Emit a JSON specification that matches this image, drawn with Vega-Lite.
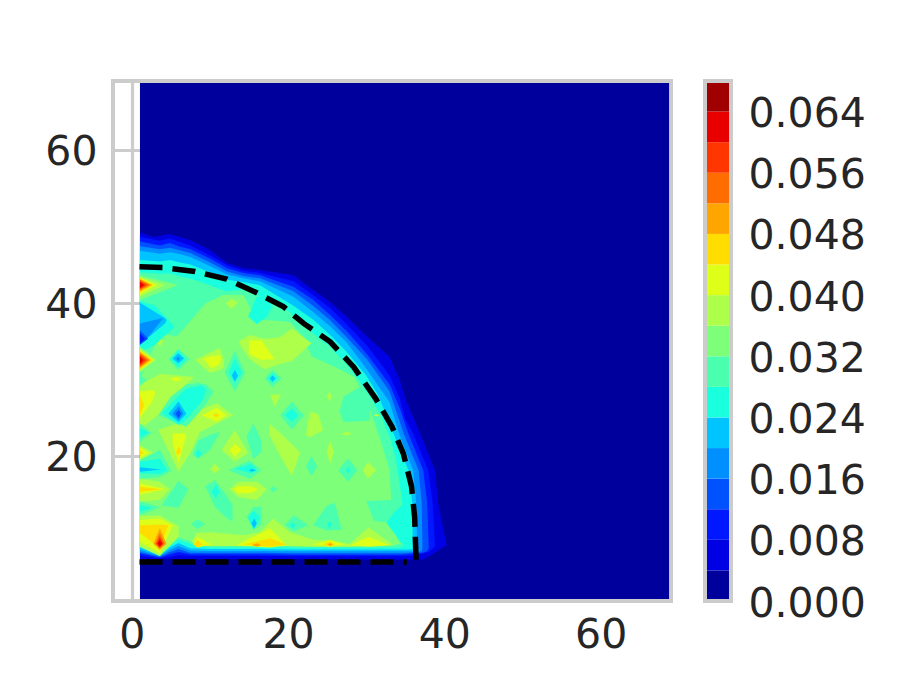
{"$schema":"https://vega.github.io/schema/vega-lite/v6.json","background":"white","padding":{"left":42,"top":79,"right":30,"bottom":20},"bounds":"flush","spacing":34,"config":{"view":{"stroke":"#cccccc","strokeWidth":4},"font":"DejaVu Sans","axis":{"labelFont":"DejaVu Sans","labelFontSize":41,"labelColor":"#262626","title":null,"ticks":false,"domain":false}},
"hconcat":[{"width":558,"height":520,"layer":[{"data":{"values":[
{"s":0,"x":1.06,"y":68.74,"b":1.26,"v":0.002},{"s":0,"x":68.75,"y":68.74,"b":1.26,"v":0.002},
{"s":1,"x":1.06,"y":49.2,"b":6.5,"v":0.006},{"s":1,"x":2.8,"y":48.6,"b":6.5,"v":0.006},{"s":1,"x":4.9,"y":49,"b":6.5,"v":0.006},{"s":1,"x":7.5,"y":48.2,"b":6.5,"v":0.006},{"s":1,"x":10,"y":46.9,"b":6.5,"v":0.006},{"s":1,"x":12.2,"y":45.2,"b":6.5,"v":0.006},{"s":1,"x":14.3,"y":44.5,"b":6.5,"v":0.006},{"s":1,"x":16.4,"y":44.3,"b":6.5,"v":0.006},{"s":1,"x":20.7,"y":43.6,"b":6.45,"v":0.006},{"s":1,"x":23.2,"y":41.7,"b":6.45,"v":0.006},{"s":1,"x":25.4,"y":40.1,"b":6.45,"v":0.006},{"s":1,"x":27.5,"y":38.2,"b":6.4,"v":0.006},{"s":1,"x":30.1,"y":35.6,"b":6.4,"v":0.006},{"s":1,"x":33,"y":32.9,"b":6.4,"v":0.006},{"s":1,"x":34.3,"y":29.9,"b":6.4,"v":0.006},{"s":1,"x":35,"y":27.5,"b":6.4,"v":0.006},{"s":1,"x":36.9,"y":22.9,"b":6.4,"v":0.006},{"s":1,"x":37.3,"y":21.9,"b":6.4,"v":0.006},{"s":1,"x":38.8,"y":18.1,"b":7.3,"v":0.006},{"s":1,"x":39.2,"y":13.8,"b":7.6,"v":0.006},{"s":1,"x":40.3,"y":8.3,"b":8.3,"v":0.006},
{"s":2,"x":1.06,"y":48.6,"b":6.9,"v":0.01},{"s":2,"x":3.6,"y":48.1,"b":6.6,"v":0.01},{"s":2,"x":4.9,"y":48.4,"b":6.8,"v":0.01},{"s":2,"x":6,"y":48,"b":7,"v":0.01},{"s":2,"x":7.5,"y":47.5,"b":6.9,"v":0.01},{"s":2,"x":10,"y":46.2,"b":6.9,"v":0.01},{"s":2,"x":12.2,"y":44.9,"b":6.9,"v":0.01},{"s":2,"x":14.3,"y":44.2,"b":6.9,"v":0.01},{"s":2,"x":16.4,"y":43.9,"b":6.9,"v":0.01},{"s":2,"x":20.7,"y":42.8,"b":6.85,"v":0.01},{"s":2,"x":23.2,"y":41,"b":6.85,"v":0.01},{"s":2,"x":25.4,"y":39.3,"b":6.85,"v":0.01},{"s":2,"x":27.5,"y":37.2,"b":6.85,"v":0.01},{"s":2,"x":30.1,"y":34.4,"b":6.85,"v":0.01},{"s":2,"x":33,"y":30.5,"b":6.85,"v":0.01},{"s":2,"x":34.3,"y":27.5,"b":6.85,"v":0.01},{"s":2,"x":35,"y":24.8,"b":6.85,"v":0.01},{"s":2,"x":36,"y":22.9,"b":6.9,"v":0.01},{"s":2,"x":37.95,"y":18.1,"b":7.4,"v":0.01},{"s":2,"x":38.5,"y":13.8,"b":7.8,"v":0.01},{"s":2,"x":38.8,"y":8.3,"b":8.1,"v":0.01},
{"s":3,"x":1.06,"y":48,"b":7.2,"v":0.014},{"s":3,"x":3.6,"y":47.5,"b":6.7,"v":0.014},{"s":3,"x":4.9,"y":47.8,"b":7.1,"v":0.014},{"s":3,"x":6,"y":47.4,"b":7.4,"v":0.014},{"s":3,"x":7.5,"y":47,"b":7.1,"v":0.014},{"s":3,"x":10,"y":45.8,"b":7.1,"v":0.014},{"s":3,"x":12.2,"y":44.5,"b":7.1,"v":0.014},{"s":3,"x":14.3,"y":43.9,"b":7.1,"v":0.014},{"s":3,"x":16.4,"y":43.6,"b":7.1,"v":0.014},{"s":3,"x":20.7,"y":42.1,"b":7.05,"v":0.014},{"s":3,"x":23.2,"y":40.4,"b":7.05,"v":0.014},{"s":3,"x":25.4,"y":38.4,"b":7.05,"v":0.014},{"s":3,"x":27.5,"y":36.3,"b":7.05,"v":0.014},{"s":3,"x":30.1,"y":33.3,"b":7.05,"v":0.014},{"s":3,"x":33,"y":29.3,"b":7.05,"v":0.014},{"s":3,"x":34.3,"y":26.2,"b":7.05,"v":0.014},{"s":3,"x":35.4,"y":22.9,"b":7.1,"v":0.014},{"s":3,"x":37.3,"y":18.1,"b":7.3,"v":0.014},{"s":3,"x":37.8,"y":13.8,"b":7.5,"v":0.014},{"s":3,"x":38,"y":8.4,"b":7.9,"v":0.014},
{"s":4,"x":1.06,"y":47.4,"b":7.4,"v":0.018},{"s":4,"x":3.6,"y":47,"b":6.8,"v":0.018},{"s":4,"x":4.9,"y":47.2,"b":7.4,"v":0.018},{"s":4,"x":6,"y":46.9,"b":7.8,"v":0.018},{"s":4,"x":7.5,"y":46.5,"b":7.3,"v":0.018},{"s":4,"x":10,"y":45.3,"b":7.3,"v":0.018},{"s":4,"x":12.2,"y":44.1,"b":7.3,"v":0.018},{"s":4,"x":14.3,"y":43.5,"b":7.3,"v":0.018},{"s":4,"x":16.4,"y":43.2,"b":7.3,"v":0.018},{"s":4,"x":20.7,"y":41.5,"b":7.25,"v":0.018},{"s":4,"x":23.2,"y":39.6,"b":7.25,"v":0.018},{"s":4,"x":25.4,"y":37.7,"b":7.25,"v":0.018},{"s":4,"x":27.5,"y":35.5,"b":7.25,"v":0.018},{"s":4,"x":30.1,"y":32.6,"b":7.25,"v":0.018},{"s":4,"x":33,"y":28.4,"b":7.25,"v":0.018},{"s":4,"x":34.8,"y":22.9,"b":7.25,"v":0.018},{"s":4,"x":36.7,"y":18.1,"b":7.4,"v":0.018},{"s":4,"x":37.1,"y":13.8,"b":7.5,"v":0.018},{"s":4,"x":37.2,"y":8.4,"b":7.9,"v":0.018},
{"s":5,"x":1.06,"y":46.8,"b":7.7,"v":0.022},{"s":5,"x":3.6,"y":46.4,"b":6.9,"v":0.022},{"s":5,"x":4.9,"y":46.6,"b":7.7,"v":0.022},{"s":5,"x":6,"y":46.4,"b":8.2,"v":0.022},{"s":5,"x":7.5,"y":46,"b":7.6,"v":0.022},{"s":5,"x":10,"y":44.8,"b":7.55,"v":0.022},{"s":5,"x":12.2,"y":43.7,"b":7.55,"v":0.022},{"s":5,"x":14.3,"y":43.2,"b":7.55,"v":0.022},{"s":5,"x":16.4,"y":42.8,"b":7.55,"v":0.022},{"s":5,"x":20.7,"y":40.8,"b":7.5,"v":0.022},{"s":5,"x":23.2,"y":38.8,"b":7.5,"v":0.022},{"s":5,"x":25.4,"y":36.9,"b":7.5,"v":0.022},{"s":5,"x":27.5,"y":34.8,"b":7.5,"v":0.022},{"s":5,"x":29.6,"y":32,"b":7.5,"v":0.022},{"s":5,"x":33,"y":27,"b":7.5,"v":0.022},{"s":5,"x":34.2,"y":22.9,"b":7.5,"v":0.022},{"s":5,"x":36,"y":18.1,"b":7.5,"v":0.022},{"s":5,"x":36.4,"y":13.8,"b":7.6,"v":0.022},{"s":5,"x":36.5,"y":8.4,"b":8,"v":0.022},
{"s":6,"x":1.06,"y":45.6,"b":8,"v":0.026},{"s":6,"x":3.6,"y":45.4,"b":7,"v":0.026},{"s":6,"x":4.9,"y":45.6,"b":8,"v":0.026},{"s":6,"x":6,"y":45.3,"b":8.6,"v":0.026},{"s":6,"x":7.5,"y":45,"b":7.9,"v":0.026},{"s":6,"x":10,"y":44,"b":7.8,"v":0.026},{"s":6,"x":12.2,"y":43,"b":7.8,"v":0.026},{"s":6,"x":14.3,"y":42.7,"b":7.8,"v":0.026},{"s":6,"x":16.4,"y":42.3,"b":7.8,"v":0.026},{"s":6,"x":20.7,"y":39.6,"b":7.75,"v":0.026},{"s":6,"x":23.2,"y":37.8,"b":7.75,"v":0.026},{"s":6,"x":25.4,"y":35.8,"b":7.75,"v":0.026},{"s":6,"x":27.5,"y":33.6,"b":7.75,"v":0.026},{"s":6,"x":30,"y":30.5,"b":7.75,"v":0.026},{"s":6,"x":31.5,"y":28,"b":7.75,"v":0.026},{"s":6,"x":33.5,"y":22.9,"b":7.75,"v":0.026},{"s":6,"x":35.4,"y":18.1,"b":7.75,"v":0.026},{"s":6,"x":35.9,"y":13.8,"b":7.8,"v":0.026},{"s":6,"x":35.95,"y":8.4,"b":8,"v":0.026},
{"s":7,"x":1.06,"y":44,"b":8.3,"v":0.03},{"s":7,"x":3.6,"y":43.8,"b":7.1,"v":0.03},{"s":7,"x":5,"y":43.8,"b":8.3,"v":0.03},{"s":7,"x":6,"y":43.5,"b":9,"v":0.03},{"s":7,"x":8,"y":43,"b":8.3,"v":0.03},{"s":7,"x":10,"y":42.3,"b":8,"v":0.03},{"s":7,"x":12,"y":41.5,"b":8,"v":0.03},{"s":7,"x":14.3,"y":41.7,"b":8,"v":0.03},{"s":7,"x":16,"y":41,"b":8,"v":0.03},{"s":7,"x":17.7,"y":40.3,"b":8,"v":0.03},{"s":7,"x":20.25,"y":38.8,"b":8,"v":0.03},{"s":7,"x":21,"y":37.7,"b":8,"v":0.03},{"s":7,"x":23.2,"y":36,"b":8,"v":0.03},{"s":7,"x":25.4,"y":34.2,"b":8,"v":0.03},{"s":7,"x":27,"y":32.5,"b":8,"v":0.03},{"s":7,"x":28.8,"y":30.3,"b":8,"v":0.03},{"s":7,"x":30.5,"y":27.7,"b":8,"v":0.03},{"s":7,"x":31.8,"y":25.5,"b":8,"v":0.03},{"s":7,"x":33,"y":22.5,"b":8,"v":0.03},{"s":7,"x":33.7,"y":20,"b":8,"v":0.03},{"s":7,"x":34.2,"y":17,"b":8,"v":0.03},{"s":7,"x":34.7,"y":13.3,"b":8.2,"v":0.03},
{"s":8,"x":1.06,"y":30,"b":8.6,"v":0.034},{"s":8,"x":3.6,"y":36,"b":7.3,"v":0.034},{"s":8,"x":5.75,"y":35.6,"b":9.4,"v":0.034},{"s":8,"x":7.24,"y":37.3,"b":8.9,"v":0.034},{"s":8,"x":9.4,"y":39.9,"b":8.3,"v":0.034},{"s":8,"x":11.7,"y":41,"b":8.3,"v":0.034},{"s":8,"x":14.3,"y":41,"b":8.3,"v":0.034},{"s":8,"x":16,"y":37.7,"b":8.3,"v":0.034},{"s":8,"x":17.7,"y":37.7,"b":8.3,"v":0.034},{"s":8,"x":20.25,"y":37.5,"b":8.3,"v":0.034},{"s":8,"x":22,"y":35.5,"b":8.3,"v":0.034},{"s":8,"x":23,"y":33,"b":8.3,"v":0.034},{"s":8,"x":26,"y":31.6,"b":8.3,"v":0.034},{"s":8,"x":28.5,"y":30.3,"b":8.3,"v":0.034},{"s":8,"x":30.5,"y":26,"b":8.3,"v":0.034},{"s":8,"x":32,"y":21.5,"b":8.3,"v":0.034},{"s":8,"x":33,"y":18.1,"b":8.3,"v":0.034},{"s":8,"x":33.2,"y":14.2,"b":8.3,"v":0.034},{"s":8,"x":34,"y":9,"b":8.4,"v":0.034},{"s":8,"x":34.5,"y":8.6,"b":8.6,"v":0.034},
{"s":10,"x":12,"y":39.9,"b":39.9,"v":0.038},{"s":10,"x":12.8,"y":40.5,"b":39.2,"v":0.038},{"s":10,"x":13.6,"y":40.1,"b":40.1,"v":0.038},
{"s":11,"x":3.2,"y":34.9,"b":34.9,"v":0.038},{"s":11,"x":3.6,"y":35.5,"b":34.3,"v":0.038},{"s":11,"x":4.05,"y":34.9,"b":34.9,"v":0.038},
{"s":12,"x":8.1,"y":32.5,"b":32.5,"v":0.038},{"s":12,"x":10,"y":33.5,"b":30.8,"v":0.038},{"s":12,"x":11.3,"y":34.1,"b":31.2,"v":0.038},{"s":12,"x":11.8,"y":32.5,"b":31.6,"v":0.038},
{"s":13,"x":13.64,"y":34.9,"b":34.9,"v":0.038},{"s":13,"x":15.1,"y":35.8,"b":32.6,"v":0.038},{"s":13,"x":17,"y":35.3,"b":31.3,"v":0.038},{"s":13,"x":19,"y":35.5,"b":32,"v":0.038},{"s":13,"x":20.5,"y":36.65,"b":32.4,"v":0.038},{"s":13,"x":23,"y":34.7,"b":34.7,"v":0.038},
{"s":14,"x":1.5,"y":29.5,"b":23.8,"v":0.038},{"s":14,"x":3.6,"y":30.7,"b":25.5,"v":0.038},{"s":14,"x":4.9,"y":30.6,"b":27.3,"v":0.038},{"s":14,"x":8,"y":30.3,"b":30.3,"v":0.038},
{"s":15,"x":1.06,"y":29,"b":23.8,"v":0.038},{"s":15,"x":1.5,"y":29.5,"b":23.8,"v":0.038},
{"s":16,"x":3.4,"y":23.4,"b":23.4,"v":0.038},{"s":16,"x":5.3,"y":24,"b":19.4,"v":0.038},{"s":16,"x":6,"y":24.2,"b":17.9,"v":0.038},{"s":16,"x":7.46,"y":24.9,"b":20.3,"v":0.038},{"s":16,"x":8.74,"y":26,"b":23.1,"v":0.038},{"s":16,"x":10.9,"y":26.85,"b":24.2,"v":0.038},{"s":16,"x":13,"y":25.3,"b":25.3,"v":0.038},
{"s":17,"x":11.5,"y":20.75,"b":20.75,"v":0.038},{"s":17,"x":13.2,"y":23.36,"b":19.2,"v":0.038},{"s":17,"x":14.9,"y":20.4,"b":20.4,"v":0.038},
{"s":18,"x":17.6,"y":24.2,"b":22.7,"v":0.038},{"s":18,"x":19,"y":23,"b":20,"v":0.038},{"s":18,"x":20.5,"y":21.5,"b":17.3,"v":0.038},{"s":18,"x":21.5,"y":20.5,"b":20.3,"v":0.038},
{"s":19,"x":17.7,"y":28,"b":28,"v":0.038},{"s":19,"x":18.3,"y":28,"b":26.4,"v":0.038},{"s":19,"x":19.1,"y":28,"b":28,"v":0.038},
{"s":20,"x":1.06,"y":21.4,"b":19.4,"v":0.038},{"s":20,"x":2.77,"y":20.4,"b":20.4,"v":0.038},
{"s":21,"x":1.06,"y":17,"b":14,"v":0.038},{"s":21,"x":3.6,"y":16.6,"b":14.2,"v":0.038},{"s":21,"x":4.9,"y":15.6,"b":15.6,"v":0.038},
{"s":22,"x":12.5,"y":15.6,"b":15.6,"v":0.038},{"s":22,"x":13.6,"y":16.6,"b":14.6,"v":0.038},{"s":22,"x":16,"y":16.6,"b":14.2,"v":0.038},{"s":22,"x":17.3,"y":15.6,"b":15.6,"v":0.038},
{"s":23,"x":10,"y":18.2,"b":18.2,"v":0.038},{"s":23,"x":10.65,"y":19,"b":17.7,"v":0.038},{"s":23,"x":11.3,"y":18.2,"b":18.2,"v":0.038},
{"s":24,"x":7.67,"y":8.75,"b":8.75,"v":0.038},{"s":24,"x":8.3,"y":9.9,"b":8.2,"v":0.038},{"s":24,"x":10,"y":10,"b":8.2,"v":0.038},{"s":24,"x":14.3,"y":9.6,"b":8.2,"v":0.038},{"s":24,"x":16.4,"y":10,"b":8.2,"v":0.038},{"s":24,"x":18.1,"y":11.8,"b":8.2,"v":0.038},{"s":24,"x":20.25,"y":10,"b":8.2,"v":0.038},{"s":24,"x":23.2,"y":9,"b":8.1,"v":0.038},{"s":24,"x":25.5,"y":8.9,"b":8.1,"v":0.038},{"s":24,"x":27.9,"y":8.45,"b":8.1,"v":0.038},{"s":24,"x":30.3,"y":10.6,"b":8.2,"v":0.038},{"s":24,"x":33.5,"y":8.3,"b":8.3,"v":0.038},
{"s":25,"x":22.3,"y":22.7,"b":22.7,"v":0.038},{"s":25,"x":22.8,"y":25.8,"b":22.4,"v":0.038},{"s":25,"x":23.9,"y":25.4,"b":23,"v":0.038},{"s":25,"x":24.5,"y":23.3,"b":23.3,"v":0.038},
{"s":26,"x":25,"y":27.9,"b":27.9,"v":0.038},{"s":26,"x":25.3,"y":28.3,"b":26.9,"v":0.038},{"s":26,"x":25.6,"y":27.9,"b":27.9,"v":0.038},
{"s":27,"x":24.9,"y":20.5,"b":20.5,"v":0.038},{"s":27,"x":25.4,"y":22,"b":18.9,"v":0.038},{"s":27,"x":25.9,"y":20.5,"b":20.5,"v":0.038},
{"s":28,"x":29.6,"y":18.1,"b":18.1,"v":0.038},{"s":28,"x":30.2,"y":19.2,"b":17,"v":0.038},{"s":28,"x":31.3,"y":18.1,"b":18.1,"v":0.038},
{"s":29,"x":26.6,"y":22.9,"b":22.9,"v":0.038},{"s":29,"x":27.7,"y":23.1,"b":22.6,"v":0.038},{"s":29,"x":28.1,"y":22.9,"b":22.9,"v":0.038},
{"s":30,"x":30.9,"y":25.3,"b":25.3,"v":0.038},{"s":30,"x":31.4,"y":25.5,"b":25.1,"v":0.038},{"s":30,"x":31.8,"y":25.3,"b":25.3,"v":0.038},
{"s":31,"x":15,"y":35.1,"b":33.3,"v":0.042},{"s":31,"x":16.6,"y":35.1,"b":32.5,"v":0.042},{"s":31,"x":18.3,"y":32.6,"b":32.6,"v":0.042},
{"s":32,"x":9.16,"y":32.7,"b":32.7,"v":0.042},{"s":32,"x":10.2,"y":33,"b":31.4,"v":0.042},{"s":32,"x":11.3,"y":33.2,"b":32,"v":0.042},{"s":32,"x":11.4,"y":32.6,"b":32.6,"v":0.042},
{"s":33,"x":1.06,"y":28.4,"b":24.9,"v":0.042},{"s":33,"x":2.77,"y":28.6,"b":27.3,"v":0.042},{"s":33,"x":3,"y":28.3,"b":28.3,"v":0.042},
{"s":34,"x":4.9,"y":30,"b":30,"v":0.042},{"s":34,"x":5.7,"y":30.3,"b":29.7,"v":0.042},{"s":34,"x":6.5,"y":30,"b":30,"v":0.042},
{"s":35,"x":8.95,"y":25.3,"b":25.3,"v":0.042},{"s":35,"x":10.9,"y":26.3,"b":24.4,"v":0.042},{"s":35,"x":12.15,"y":25.3,"b":25.3,"v":0.042},
{"s":36,"x":5.24,"y":22.9,"b":21.6,"v":0.042},{"s":36,"x":6,"y":22.9,"b":19,"v":0.042},{"s":36,"x":6.95,"y":22.9,"b":22.5,"v":0.042},
{"s":37,"x":12.5,"y":20.75,"b":20.75,"v":0.042},{"s":37,"x":13.2,"y":21.6,"b":19.9,"v":0.042},{"s":37,"x":14.07,"y":20.75,"b":20.75,"v":0.042},
{"s":38,"x":1.06,"y":21.1,"b":19.7,"v":0.042},{"s":38,"x":2.25,"y":20.4,"b":20.4,"v":0.042},
{"s":39,"x":1.06,"y":16.4,"b":14.9,"v":0.042},{"s":39,"x":4.26,"y":15.6,"b":15.6,"v":0.042},
{"s":40,"x":13,"y":15.6,"b":15.6,"v":0.042},{"s":40,"x":13.6,"y":16,"b":15.1,"v":0.042},{"s":40,"x":15.3,"y":16,"b":15.1,"v":0.042},{"s":40,"x":16.2,"y":15.6,"b":15.6,"v":0.042},
{"s":41,"x":7.9,"y":8.4,"b":8.4,"v":0.042},{"s":41,"x":8.4,"y":9.4,"b":8,"v":0.042},{"s":41,"x":10.2,"y":8.4,"b":8.4,"v":0.042},
{"s":42,"x":13.4,"y":8.3,"b":8.3,"v":0.042},{"s":42,"x":17.7,"y":10.5,"b":8,"v":0.042},{"s":42,"x":19.8,"y":8.3,"b":8.3,"v":0.042},
{"s":43,"x":23.2,"y":8.4,"b":8.4,"v":0.042},{"s":43,"x":25.4,"y":9,"b":8.1,"v":0.042},{"s":43,"x":27.3,"y":8.4,"b":8.4,"v":0.042},
{"s":44,"x":27.9,"y":8.3,"b":8.3,"v":0.042},{"s":44,"x":30.3,"y":9.4,"b":8.1,"v":0.042},{"s":44,"x":33,"y":8.3,"b":8.3,"v":0.042},
{"s":45,"x":1.06,"y":27.9,"b":25.3,"v":0.046},{"s":45,"x":1.6,"y":26.6,"b":26.6,"v":0.046},
{"s":46,"x":10.4,"y":25.3,"b":25.3,"v":0.046},{"s":46,"x":10.8,"y":25.6,"b":25,"v":0.046},{"s":46,"x":11.2,"y":25.3,"b":25.3,"v":0.046},
{"s":47,"x":5.65,"y":20.4,"b":20.4,"v":0.046},{"s":47,"x":6,"y":21.2,"b":20.1,"v":0.046},{"s":47,"x":6.35,"y":20.6,"b":20.6,"v":0.046},
{"s":48,"x":1.06,"y":20.75,"b":20,"v":0.046},{"s":48,"x":1.5,"y":20.4,"b":20.4,"v":0.046},
{"s":49,"x":1.06,"y":15.95,"b":15.3,"v":0.046},{"s":49,"x":3.83,"y":15.6,"b":15.6,"v":0.046},
{"s":50,"x":8,"y":8.4,"b":8.4,"v":0.046},{"s":50,"x":8.4,"y":9,"b":8,"v":0.046},{"s":50,"x":9.1,"y":8.4,"b":8.4,"v":0.046},
{"s":51,"x":14.3,"y":8.4,"b":8.4,"v":0.046},{"s":51,"x":17.7,"y":9.2,"b":8.1,"v":0.046},{"s":51,"x":19.8,"y":8.4,"b":8.4,"v":0.046},
{"s":52,"x":24.5,"y":8.4,"b":8.4,"v":0.046},{"s":52,"x":25.4,"y":8.8,"b":8.1,"v":0.046},{"s":52,"x":26,"y":8.4,"b":8.4,"v":0.046},
{"s":53,"x":15.4,"y":8.3,"b":8.3,"v":0.05},{"s":53,"x":16,"y":8.55,"b":8.1,"v":0.05},{"s":53,"x":16.6,"y":8.3,"b":8.3,"v":0.05},
{"s":54,"x":25.1,"y":8.4,"b":8.4,"v":0.05},{"s":54,"x":25.4,"y":8.6,"b":8.2,"v":0.05},{"s":54,"x":25.7,"y":8.4,"b":8.4,"v":0.05},
{"s":60,"x":13.2,"y":33.8,"b":28.4,"v":0.03},{"s":60,"x":11.9,"y":30.8,"b":30.8,"v":0.03},{"s":60,"x":14.5,"y":30.8,"b":30.8,"v":0.03},
{"s":61,"x":4.7,"y":32.6,"b":32.6,"v":0.03},{"s":61,"x":5.96,"y":34,"b":31.2,"v":0.03},{"s":61,"x":7.5,"y":32.6,"b":32.6,"v":0.03},
{"s":62,"x":17.05,"y":30.1,"b":30.1,"v":0.03},{"s":62,"x":18,"y":31.2,"b":29,"v":0.03},{"s":62,"x":19.2,"y":30.1,"b":30.1,"v":0.03},
{"s":63,"x":3.4,"y":25.3,"b":25.3,"v":0.03},{"s":63,"x":5,"y":27.7,"b":24.6,"v":0.03},{"s":63,"x":7,"y":29.3,"b":23.8,"v":0.03},{"s":63,"x":8.5,"y":29.5,"b":25.5,"v":0.03},{"s":63,"x":9.5,"y":29.3,"b":26.8,"v":0.03},{"s":63,"x":10.5,"y":28.4,"b":28.4,"v":0.03},
{"s":64,"x":7.8,"y":20.1,"b":20.1,"v":0.03},{"s":64,"x":8.5,"y":22,"b":19.65,"v":0.03},{"s":64,"x":10,"y":22.7,"b":20.7,"v":0.03},{"s":64,"x":11.3,"y":23.1,"b":23.1,"v":0.03},
{"s":65,"x":14.7,"y":22.5,"b":22.5,"v":0.03},{"s":65,"x":15.56,"y":24.2,"b":19.5,"v":0.03},{"s":65,"x":16.6,"y":22,"b":20.5,"v":0.03},
{"s":66,"x":19,"y":25.3,"b":25.3,"v":0.03},{"s":66,"x":20.5,"y":27.1,"b":23.4,"v":0.03},{"s":66,"x":22,"y":25.3,"b":25.3,"v":0.03},
{"s":67,"x":1.06,"y":24.2,"b":21.8,"v":0.03},{"s":67,"x":2.55,"y":23,"b":23,"v":0.03},
{"s":68,"x":1.06,"y":19.4,"b":17,"v":0.03},{"s":68,"x":3.6,"y":20.75,"b":17.2,"v":0.03},{"s":68,"x":5.1,"y":18,"b":18,"v":0.03},
{"s":69,"x":1.06,"y":14,"b":12.25,"v":0.03},{"s":69,"x":3.6,"y":13.25,"b":13.25,"v":0.03},
{"s":70,"x":3.83,"y":13.5,"b":13.5,"v":0.03},{"s":70,"x":6,"y":16.7,"b":13.2,"v":0.03},{"s":70,"x":7.24,"y":15.6,"b":15.6,"v":0.03},
{"s":71,"x":9.4,"y":16,"b":16,"v":0.03},{"s":71,"x":10.66,"y":16.8,"b":13.3,"v":0.03},{"s":71,"x":12,"y":15,"b":12,"v":0.03},{"s":71,"x":12.9,"y":13.6,"b":11.4,"v":0.03},
{"s":72,"x":12.4,"y":18.1,"b":18.1,"v":0.03},{"s":72,"x":15.1,"y":19.4,"b":17,"v":0.03},{"s":72,"x":16.6,"y":18.1,"b":18.1,"v":0.03},
{"s":73,"x":7.6,"y":11.05,"b":11.05,"v":0.03},{"s":73,"x":8.4,"y":11.7,"b":10.4,"v":0.03},{"s":73,"x":9.4,"y":11.05,"b":11.05,"v":0.03},
{"s":74,"x":14.7,"y":12,"b":12,"v":0.03},{"s":74,"x":15.56,"y":13.3,"b":10.3,"v":0.03},{"s":74,"x":16.6,"y":13.3,"b":11,"v":0.03},
{"s":75,"x":17.7,"y":15.6,"b":15.6,"v":0.03},{"s":75,"x":18.1,"y":16,"b":15.2,"v":0.03},{"s":75,"x":18.6,"y":15.6,"b":15.6,"v":0.03},
{"s":76,"x":22.3,"y":18.6,"b":18.6,"v":0.03},{"s":76,"x":23,"y":20,"b":17.35,"v":0.03},{"s":76,"x":23.75,"y":18.6,"b":18.6,"v":0.03},
{"s":77,"x":26.4,"y":18.1,"b":18.1,"v":0.03},{"s":77,"x":27.7,"y":19.65,"b":16.6,"v":0.03},{"s":77,"x":28.9,"y":18.1,"b":18.1,"v":0.03},
{"s":78,"x":26.6,"y":25.8,"b":25.8,"v":0.03},{"s":78,"x":27.1,"y":27.7,"b":24.4,"v":0.03},{"s":78,"x":29.2,"y":29,"b":24.5,"v":0.03},{"s":78,"x":30.5,"y":26,"b":24.6,"v":0.03},
{"s":79,"x":23.2,"y":10.9,"b":10.9,"v":0.03},{"s":79,"x":25,"y":13.5,"b":10.2,"v":0.03},{"s":79,"x":26,"y":13.8,"b":10.3,"v":0.03},{"s":79,"x":26.9,"y":10.3,"b":10.3,"v":0.03},
{"s":80,"x":19.6,"y":10.9,"b":10.9,"v":0.03},{"s":80,"x":20.7,"y":12.2,"b":10.1,"v":0.03},{"s":80,"x":22.6,"y":10.9,"b":10.9,"v":0.03},
{"s":81,"x":30,"y":14.1,"b":14.1,"v":0.03},{"s":81,"x":31,"y":14.1,"b":11.5,"v":0.03},{"s":81,"x":33.2,"y":14.2,"b":11.2,"v":0.03},{"s":81,"x":33.9,"y":14,"b":11,"v":0.03},
{"s":82,"x":1.06,"y":30.5,"b":29.2,"v":0.03},{"s":82,"x":1.9,"y":29.9,"b":29.9,"v":0.03},
{"s":90,"x":14.9,"y":38.2,"b":38.2,"v":0.026},{"s":90,"x":16,"y":40.8,"b":37.2,"v":0.026},{"s":90,"x":17.3,"y":40.8,"b":38.2,"v":0.026},{"s":90,"x":18,"y":40,"b":39.5,"v":0.026},
{"s":91,"x":1.06,"y":40.2,"b":33.6,"v":0.026},{"s":91,"x":3,"y":39.6,"b":34.5,"v":0.026},{"s":91,"x":5.5,"y":36.9,"b":36.9,"v":0.026},
{"s":92,"x":12.4,"y":30.8,"b":30.8,"v":0.026},{"s":92,"x":13.2,"y":32.7,"b":29.5,"v":0.026},{"s":92,"x":14.1,"y":30.8,"b":30.8,"v":0.026},
{"s":93,"x":4.98,"y":32.6,"b":32.6,"v":0.026},{"s":93,"x":5.96,"y":33.8,"b":31.6,"v":0.026},{"s":93,"x":6.95,"y":32.6,"b":32.6,"v":0.026},
{"s":94,"x":17.4,"y":30.1,"b":30.1,"v":0.026},{"s":94,"x":18,"y":30.8,"b":29.5,"v":0.026},{"s":94,"x":18.7,"y":30.1,"b":30.1,"v":0.026},
{"s":95,"x":3.9,"y":25.6,"b":25.6,"v":0.026},{"s":95,"x":6,"y":27.8,"b":24,"v":0.026},{"s":95,"x":7,"y":28.8,"b":24.7,"v":0.026},{"s":95,"x":9,"y":29.2,"b":27.2,"v":0.026},{"s":95,"x":9.6,"y":28.6,"b":28.6,"v":0.026},
{"s":96,"x":8.2,"y":20.3,"b":20.3,"v":0.026},{"s":96,"x":8.5,"y":20.8,"b":19.65,"v":0.026},{"s":96,"x":8.95,"y":20.3,"b":20.3,"v":0.026},
{"s":97,"x":19.6,"y":25.3,"b":25.3,"v":0.026},{"s":97,"x":20.5,"y":26.2,"b":24.4,"v":0.026},{"s":97,"x":21.3,"y":25.3,"b":25.3,"v":0.026},
{"s":98,"x":1.06,"y":23.6,"b":22.4,"v":0.026},{"s":98,"x":2.25,"y":23,"b":23,"v":0.026},
{"s":99,"x":1.06,"y":19.2,"b":17.7,"v":0.026},{"s":99,"x":3.6,"y":19.6,"b":17.6,"v":0.026},{"s":99,"x":4.55,"y":18.1,"b":18.1,"v":0.026},
{"s":100,"x":1.06,"y":13.55,"b":12.7,"v":0.026},{"s":100,"x":2.55,"y":13.2,"b":13.2,"v":0.026},
{"s":101,"x":10.2,"y":15.3,"b":15.3,"v":0.026},{"s":101,"x":10.8,"y":16.2,"b":14.4,"v":0.026},{"s":101,"x":11.2,"y":15.3,"b":15.3,"v":0.026},
{"s":102,"x":13.2,"y":18.3,"b":18.3,"v":0.026},{"s":102,"x":15.35,"y":18.9,"b":17.7,"v":0.026},{"s":102,"x":16,"y":18.1,"b":18.1,"v":0.026},
{"s":103,"x":14.9,"y":12,"b":12,"v":0.026},{"s":103,"x":15.6,"y":12.8,"b":10.3,"v":0.026},{"s":103,"x":16.4,"y":12,"b":12,"v":0.026},
{"s":104,"x":27.4,"y":18.1,"b":18.1,"v":0.026},{"s":104,"x":27.7,"y":18.5,"b":17.7,"v":0.026},{"s":104,"x":28,"y":18.1,"b":18.1,"v":0.026},
{"s":105,"x":25,"y":11,"b":11,"v":0.026},{"s":105,"x":25.3,"y":11.4,"b":10.5,"v":0.026},{"s":105,"x":25.6,"y":11,"b":11,"v":0.026},
{"s":106,"x":20.25,"y":10.9,"b":10.9,"v":0.026},{"s":106,"x":20.6,"y":11.2,"b":10.5,"v":0.026},{"s":106,"x":21,"y":10.9,"b":10.9,"v":0.026},
{"s":107,"x":32.6,"y":11.2,"b":11.2,"v":0.026},{"s":107,"x":33.5,"y":12.5,"b":10,"v":0.026},{"s":107,"x":34.5,"y":13.5,"b":8.6,"v":0.026},{"s":107,"x":35.7,"y":14,"b":8.5,"v":0.026},
{"s":110,"x":1.06,"y":40,"b":34.5,"v":0.022},{"s":110,"x":4.26,"y":38,"b":37.3,"v":0.022},{"s":110,"x":4.47,"y":37.7,"b":37.7,"v":0.022},
{"s":111,"x":12.8,"y":30.5,"b":30.5,"v":0.022},{"s":111,"x":13.2,"y":31.2,"b":29.7,"v":0.022},{"s":111,"x":13.6,"y":30.5,"b":30.5,"v":0.022},
{"s":112,"x":5.24,"y":32.7,"b":32.7,"v":0.022},{"s":112,"x":5.96,"y":33.4,"b":32.1,"v":0.022},{"s":112,"x":6.7,"y":32.7,"b":32.7,"v":0.022},
{"s":113,"x":17.7,"y":30.1,"b":30.1,"v":0.022},{"s":113,"x":18,"y":30.5,"b":29.7,"v":0.022},{"s":113,"x":18.4,"y":30.1,"b":30.1,"v":0.022},
{"s":114,"x":4.7,"y":25.5,"b":25.5,"v":0.022},{"s":114,"x":6,"y":27.1,"b":24.4,"v":0.022},{"s":114,"x":7,"y":25.5,"b":25.5,"v":0.022},
{"s":115,"x":1.06,"y":18.5,"b":17.9,"v":0.022},{"s":115,"x":3.8,"y":18.2,"b":18.2,"v":0.022},
{"s":116,"x":15,"y":18.1,"b":18.1,"v":0.022},{"s":116,"x":15.35,"y":18.3,"b":17.9,"v":0.022},{"s":116,"x":15.9,"y":18.1,"b":18.1,"v":0.022},
{"s":117,"x":15.3,"y":11.15,"b":11.15,"v":0.022},{"s":117,"x":15.7,"y":11.8,"b":10.5,"v":0.022},{"s":117,"x":16,"y":11.15,"b":11.15,"v":0.022},
{"s":120,"x":1.06,"y":37.3,"b":34.5,"v":0.018},{"s":120,"x":2.34,"y":37.6,"b":35.8,"v":0.018},{"s":120,"x":4.05,"y":38,"b":38,"v":0.018},
{"s":121,"x":5.7,"y":32.7,"b":32.7,"v":0.018},{"s":121,"x":5.96,"y":32.95,"b":32.4,"v":0.018},{"s":121,"x":6.2,"y":32.7,"b":32.7,"v":0.018},
{"s":122,"x":5.2,"y":25.5,"b":25.5,"v":0.018},{"s":122,"x":6,"y":26.5,"b":24.7,"v":0.018},{"s":122,"x":6.6,"y":25.5,"b":25.5,"v":0.018},
{"s":123,"x":1.06,"y":36.4,"b":34.5,"v":0.014},{"s":123,"x":2.1,"y":35.3,"b":35.3,"v":0.014},
{"s":124,"x":5.6,"y":25.5,"b":25.5,"v":0.014},{"s":124,"x":6,"y":26,"b":24.9,"v":0.014},{"s":124,"x":6.3,"y":25.5,"b":25.5,"v":0.014},
{"s":125,"x":1.06,"y":36,"b":34.7,"v":0.01},{"s":125,"x":1.7,"y":35.3,"b":35.3,"v":0.01},
{"s":130,"x":1.06,"y":43.63,"b":40.36,"v":0.034},{"s":130,"x":5.96,"y":42.32,"b":42.32,"v":0.034},
{"s":131,"x":1.06,"y":43.4,"b":40.8,"v":0.038},{"s":131,"x":4.26,"y":42.32,"b":42.32,"v":0.038},
{"s":132,"x":1.06,"y":43.3,"b":41,"v":0.042},{"s":132,"x":3.2,"y":42.32,"b":42.32,"v":0.042},
{"s":133,"x":1.06,"y":43.2,"b":41.3,"v":0.046},{"s":133,"x":2.77,"y":42.32,"b":42.32,"v":0.046},
{"s":134,"x":1.06,"y":43.06,"b":41.5,"v":0.05},{"s":134,"x":2.55,"y":42.32,"b":42.32,"v":0.05},
{"s":135,"x":1.06,"y":43,"b":41.67,"v":0.054},{"s":135,"x":2.25,"y":42.32,"b":42.32,"v":0.054},
{"s":136,"x":1.06,"y":42.85,"b":41.8,"v":0.058},{"s":136,"x":1.9,"y":42.32,"b":42.32,"v":0.058},
{"s":137,"x":1.06,"y":42.7,"b":41.93,"v":0.062},{"s":137,"x":1.6,"y":42.32,"b":42.32,"v":0.062},
{"s":140,"x":1.06,"y":34.26,"b":30.77,"v":0.034},{"s":140,"x":3.6,"y":32.5,"b":32.5,"v":0.034},
{"s":141,"x":1.06,"y":34.04,"b":31,"v":0.038},{"s":141,"x":3.1,"y":32.5,"b":32.5,"v":0.038},
{"s":142,"x":1.06,"y":33.8,"b":31.2,"v":0.042},{"s":142,"x":2.85,"y":32.5,"b":32.5,"v":0.042},
{"s":143,"x":1.06,"y":33.7,"b":31.3,"v":0.046},{"s":143,"x":2.64,"y":32.5,"b":32.5,"v":0.046},
{"s":144,"x":1.06,"y":33.56,"b":31.47,"v":0.05},{"s":144,"x":2.42,"y":32.5,"b":32.5,"v":0.05},
{"s":145,"x":1.06,"y":33.4,"b":31.64,"v":0.054},{"s":145,"x":2.13,"y":32.5,"b":32.5,"v":0.054},
{"s":146,"x":1.06,"y":33.2,"b":31.8,"v":0.058},{"s":146,"x":1.83,"y":32.5,"b":32.5,"v":0.058},
{"s":147,"x":1.06,"y":33,"b":32,"v":0.062},{"s":147,"x":1.5,"y":32.5,"b":32.5,"v":0.062},
{"s":150,"x":1.06,"y":12.1,"b":8.1,"v":0.038},{"s":150,"x":3.6,"y":12.2,"b":6.9,"v":0.038},{"s":150,"x":6,"y":10.8,"b":9.4,"v":0.038},
{"s":151,"x":1.06,"y":11.6,"b":8.75,"v":0.042},{"s":151,"x":3.6,"y":11.8,"b":7.2,"v":0.042},{"s":151,"x":5.3,"y":10.9,"b":10.9,"v":0.042},
{"s":152,"x":1.06,"y":10.9,"b":9.9,"v":0.046},{"s":152,"x":3.6,"y":11,"b":7.9,"v":0.046},{"s":152,"x":4.7,"y":10.9,"b":10.9,"v":0.046},
{"s":153,"x":2.77,"y":8.5,"b":8.5,"v":0.05},{"s":153,"x":3.6,"y":10.5,"b":7.67,"v":0.05},{"s":153,"x":4.47,"y":8.5,"b":8.5,"v":0.05},
{"s":154,"x":3,"y":8.5,"b":8.5,"v":0.054},{"s":154,"x":3.6,"y":9.85,"b":7.9,"v":0.054},{"s":154,"x":4.2,"y":8.5,"b":8.5,"v":0.054},
{"s":155,"x":3.15,"y":8.5,"b":8.5,"v":0.058},{"s":155,"x":3.6,"y":9.4,"b":8,"v":0.058},{"s":155,"x":4.05,"y":8.5,"b":8.5,"v":0.058},
{"s":156,"x":3.3,"y":8.5,"b":8.5,"v":0.062},{"s":156,"x":3.6,"y":9,"b":8.1,"v":0.062},{"s":156,"x":3.9,"y":8.5,"b":8.5,"v":0.062}
]},"mark":{"type":"area","interpolate":"linear","orient":"vertical","clip":true},"encoding":{"x":{"field":"x","type":"quantitative","scale":{"domain":[-2.39,69],"nice":false,"zero":false},"axis":{"values":[0,20,40,60],"grid":true,"gridColor":"#cccccc","gridWidth":3.2,"labelPadding":14,"format":"d"}},"y":{"field":"y","type":"quantitative","scale":{"domain":[1,69],"nice":false,"zero":false},"stack":null,"axis":{"values":[20,40,60],"grid":true,"gridColor":"#cccccc","gridWidth":3.2,"labelPadding":16,"labelOffset":3,"format":"d"}},"y2":{"field":"b"},"detail":{"field":"s","type":"nominal"},"color":{"field":"v","type":"quantitative","legend":null,"scale":{"type":"threshold","domain":[0.004,0.008,0.012,0.016,0.02,0.024,0.028,0.032,0.036,0.04,0.044,0.048,0.052,0.056,0.06,0.064],"range":["#00009c","#0000e4","#0018ff","#0052ff","#008fff","#00c4ff","#1affdd","#4affad","#7dff7a","#adff49","#deff18","#ffdd00","#ffa500","#ff6d00","#ff3600","#e80000","#a00000"]}}}},
{"data":{"values":[{"p":"arc","x":1,"y":44.7},{"p":"arc","x":4,"y":44.6},{"p":"arc","x":8.1,"y":44.1},{"p":"arc","x":12.15,"y":43.1},{"p":"arc","x":16,"y":41.3},{"p":"arc","x":19.4,"y":39.5},{"p":"arc","x":22,"y":37.3},{"p":"arc","x":25.4,"y":34.9},{"p":"arc","x":28.4,"y":31.6},{"p":"arc","x":31.2,"y":27.5},{"p":"arc","x":33.3,"y":23.8},{"p":"arc","x":34.75,"y":20.3},{"p":"arc","x":35.8,"y":16},{"p":"arc","x":36.2,"y":12},{"p":"arc","x":36.4,"y":6.2},{"p":"base","x":1,"y":6.1},{"p":"base","x":35.2,"y":6.1}]},"mark":{"type":"line","color":"black","strokeWidth":5.5,"strokeDash":[23,10]},"encoding":{"x":{"field":"x","type":"quantitative"},"y":{"field":"y","type":"quantitative"},"detail":{"field":"p","type":"nominal"}}}]},
{"width":26,"height":520,"data":{"values":[{"lo":0.00026,"hi":0.004,"v":0.002},{"lo":0.004,"hi":0.008,"v":0.006},{"lo":0.008,"hi":0.012,"v":0.01},{"lo":0.012,"hi":0.016,"v":0.014},{"lo":0.016,"hi":0.02,"v":0.018},{"lo":0.02,"hi":0.024,"v":0.022},{"lo":0.024,"hi":0.028,"v":0.026},{"lo":0.028,"hi":0.032,"v":0.03},{"lo":0.032,"hi":0.036,"v":0.034},{"lo":0.036,"hi":0.04,"v":0.038},{"lo":0.04,"hi":0.044,"v":0.042},{"lo":0.044,"hi":0.048,"v":0.046},{"lo":0.048,"hi":0.052,"v":0.05},{"lo":0.052,"hi":0.056,"v":0.054},{"lo":0.056,"hi":0.06,"v":0.058},{"lo":0.06,"hi":0.064,"v":0.062},{"lo":0.064,"hi":0.06774,"v":0.066}]},"mark":{"type":"rect"},"encoding":{"x":{"datum":2,"type":"quantitative","scale":{"domain":[0,26],"nice":false,"zero":false},"axis":null},"x2":{"datum":24},"y":{"field":"lo","type":"quantitative","scale":{"domain":[0,0.068],"nice":false,"zero":false},"axis":{"orient":"right","values":[0,0.008,0.016,0.024,0.032,0.04,0.048,0.056,0.064],"format":".3f","grid":false,"labelPadding":17,"labelOffset":3,"labelOverlap":false}},"y2":{"field":"hi"},"color":{"field":"v","type":"quantitative","legend":null,"scale":{"type":"threshold","domain":[0.004,0.008,0.012,0.016,0.02,0.024,0.028,0.032,0.036,0.04,0.044,0.048,0.052,0.056,0.06,0.064],"range":["#00009c","#0000e4","#0018ff","#0052ff","#008fff","#00c4ff","#1affdd","#4affad","#7dff7a","#adff49","#deff18","#ffdd00","#ffa500","#ff6d00","#ff3600","#e80000","#a00000"]}}}}]}
